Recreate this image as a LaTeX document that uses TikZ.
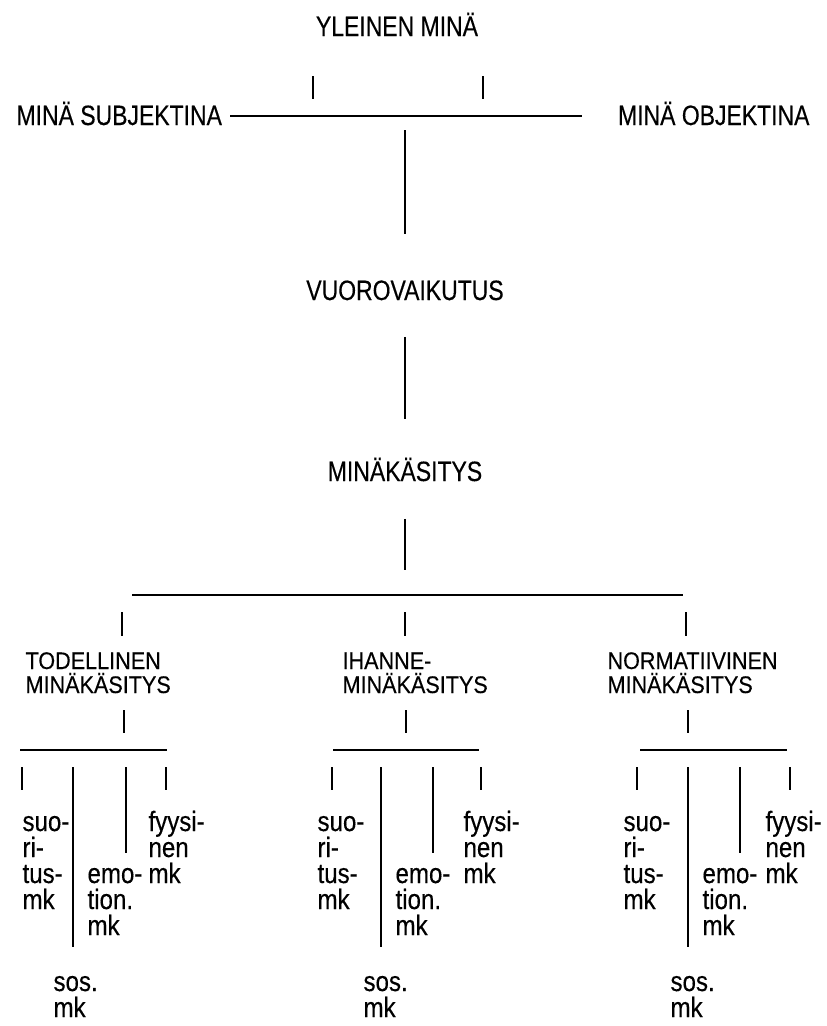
\documentclass[tikz,border=0pt]{standalone}
\usepackage{fontspec}
\setmainfont{Liberation Sans}[FakeStretch=0.82, FakeBold=0.3]
\newfontfamily\labfont{Liberation Sans}[FakeStretch=0.9, FakeBold=0.3]
\newfontfamily\lowfont{Liberation Sans}[FakeStretch=0.86, FakeBold=0.3]
\usepackage{tikz}

\begin{document}
\begin{tikzpicture}[x=1pt, y=-1pt, line width=1.1pt, inner sep=0pt,
  bigtext/.style = {font=\fontsize{28}{28}\selectfont, anchor=base},
  midtext/.style = {font=\labfont\fontsize{24}{24}\selectfont, align=left, anchor=base west},
  lowtext/.style = {font=\lowfont\fontsize{28}{26}\selectfont, align=left, anchor=base west}]
\useasboundingbox (0,0) rectangle (827,1026);
\node[bigtext] (yleinen) at (397,36) {YLEINEN MINÄ};
\node[bigtext, anchor=base west] (subj) at (16,125) {MINÄ SUBJEKTINA};
\node[bigtext, anchor=base east] (obj) at (810,125) {MINÄ OBJEKTINA};
\node[bigtext] (vuoro) at (405,300) {VUOROVAIKUTUS};
\node[bigtext] (mink) at (405,481) {MINÄKÄSITYS};
\coordinate (barL) at (230,116);
\coordinate (barR) at (582,116);
\coordinate (bar1) at (405,130);
\coordinate (bar2) at (405,570);
\draw (313,76) -- (313,99);
\draw (483,76) -- (483,99);
\draw (barL) -- (barR);
\draw[shorten >=46pt] (bar1) -- (vuoro);
\draw[shorten <=36pt, shorten >=38pt] (vuoro.south) -- (mink.north);
\draw[shorten <=37pt] (mink.south) -- (bar2);
\draw (132,595) -- (683,595);
\draw (122,612) -- (122,636);
\draw (405,612) -- (405,636);
\draw (686,612) -- (686,636);
% todellinen
\node[midtext] (tod) at (25,693) {TODELLINEN\\MINÄKÄSITYS};
\draw (124,710) -- (124,733);
\draw (20,750) -- (167,750);
\draw (22,767) -- (22,790);
\draw (73,767) -- (73,947);
\draw (126,767) -- (126,853);
\draw (166,767) -- (166,790);
\node[lowtext] (suo1) at (22,909) {suo-\\ri-\\tus-\\mk};
\node[lowtext] (emo1) at (87,935) {emo-\\tion.\\mk};
\node[lowtext] (fyy1) at (148,883) {fyysi-\\nen\\mk};
\node[lowtext] (sos1) at (53,1017) {sos.\\mk};
% ihanne
\node[midtext] (ihan) at (342,693) {IHANNE-\\MINÄKÄSITYS};
\draw (406,710) -- (406,733);
\draw (333,750) -- (479,750);
\draw (332,767) -- (332,790);
\draw (381,767) -- (381,947);
\draw (433,767) -- (433,853);
\draw (481,767) -- (481,790);
\node[lowtext] (suo2) at (317,909) {suo-\\ri-\\tus-\\mk};
\node[lowtext] (emo2) at (395,935) {emo-\\tion.\\mk};
\node[lowtext] (fyy2) at (463,883) {fyysi-\\nen\\mk};
\node[lowtext] (sos2) at (363,1017) {sos.\\mk};
% normatiivinen
\node[midtext] (norm) at (607,693) {NORMATIIVINEN\\MINÄKÄSITYS};
\draw (688,710) -- (688,733);
\draw (640,750) -- (787,750);
\draw (637,767) -- (637,790);
\draw (688,767) -- (688,947);
\draw (740,767) -- (740,853);
\draw (790,767) -- (790,790);
\node[lowtext] (suo3) at (623,909) {suo-\\ri-\\tus-\\mk};
\node[lowtext] (emo3) at (702,935) {emo-\\tion.\\mk};
\node[lowtext] (fyy3) at (765,883) {fyysi-\\nen\\mk};
\node[lowtext] (sos3) at (670,1017) {sos.\\mk};
\end{tikzpicture}
\end{document}
